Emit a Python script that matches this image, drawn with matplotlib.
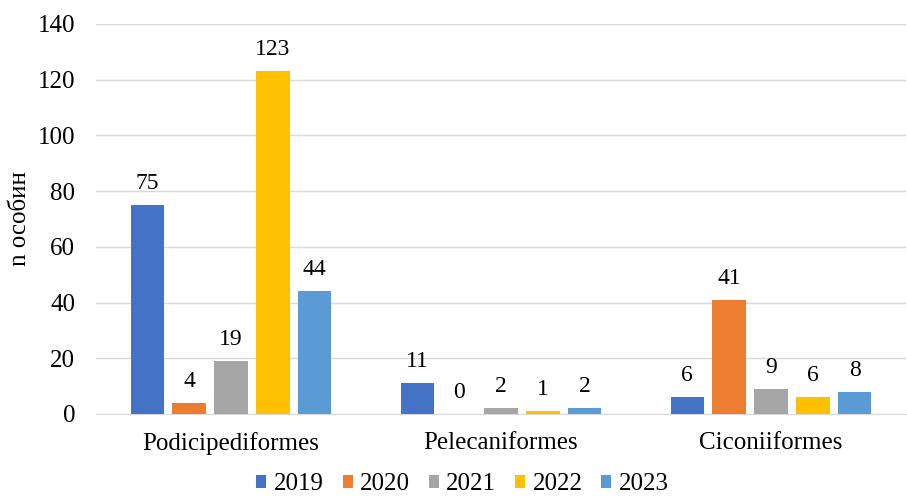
import matplotlib
matplotlib.use("Agg")
import matplotlib.pyplot as plt
import numpy as np

categories = ["Podicipediformes", "Pelecaniformes", "Ciconiiformes"]
years = ["2019", "2020", "2021", "2022", "2023"]
values = {
    "2019": [75, 11, 6],
    "2020": [4, 0, 41],
    "2021": [19, 2, 9],
    "2022": [123, 1, 6],
    "2023": [44, 2, 8],
}
colors = ["#4472C4", "#ED7D31", "#A5A5A5", "#FFC000", "#5B9BD5"]
y_ticks = [0, 20, 40, 60, 80, 100, 120, 140]

plt.rcParams['font.family'] = ['Liberation Serif', 'DejaVu Serif']

fig = plt.figure(figsize=(9.07, 4.99), dpi=100)
ax = fig.add_axes([96/907, 1-414/499, 810/907, 390/499])

x = np.arange(len(categories))
step = 0.155
width = 0.124
for i, (yr, c) in enumerate(zip(years, colors)):
    pos = x + (i - 2) * step
    ax.bar(pos, values[yr], width=width, color=c, label=yr, zorder=3)
    for p, v in zip(pos, values[yr]):
        ax.text(p, v + 4, str(v), ha='center', va='bottom', fontsize=17, color='#000000')

ax.set_xlim(-0.5, 2.5)
ax.set_ylim(0, 140)
ax.set_yticks(y_ticks)
ax.set_yticklabels([str(t) for t in y_ticks], fontsize=18)
ax.set_xticks(x)
ax.set_xticklabels(categories, fontsize=18)
ax.tick_params(axis='both', length=0)
ax.tick_params(axis='y', pad=15)
ax.tick_params(axis='x', pad=13)
ax.grid(axis='y', color='#D9D9D9', linewidth=1, zorder=0)
for s in ['top', 'right', 'left']:
    ax.spines[s].set_visible(False)
ax.spines['bottom'].set_color('#D9D9D9')
ax.set_ylabel("n особин", fontsize=18, labelpad=5)

fig.legend(loc='lower center', bbox_to_anchor=(0.51, -0.038), ncol=5, frameon=False,
           fontsize=18, handlelength=0.4, handleheight=0.4, handletextpad=0.3,
           columnspacing=0.75)

fig.savefig("out.png", dpi=100)
